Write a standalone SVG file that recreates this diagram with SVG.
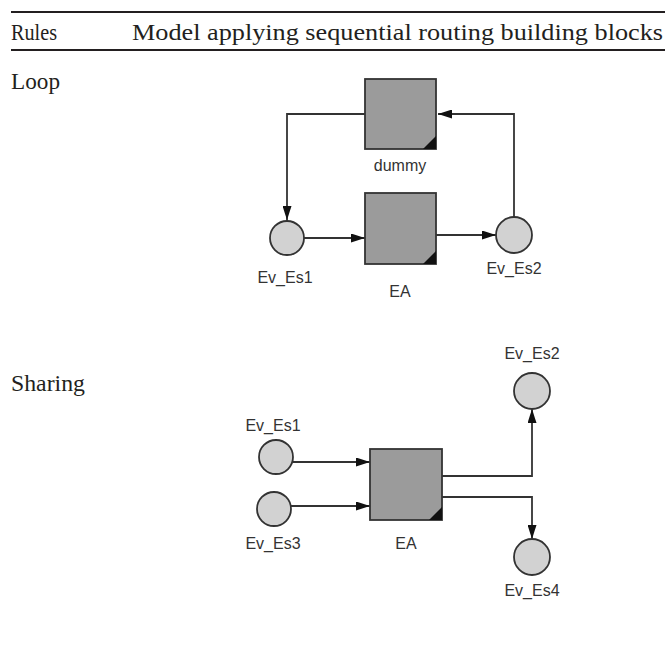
<svg xmlns="http://www.w3.org/2000/svg" width="665" height="647" viewBox="0 0 665 647">
<style>
.hdr{font-family:"Liberation Serif","Times New Roman",serif;font-size:23px;fill:#231f20}
.lbl{font-family:"Liberation Sans",Arial,sans-serif;font-size:16px;fill:#333;text-anchor:middle}
.box{fill:#9b9b9b;stroke:#333;stroke-width:1.8}
.ev{fill:#d2d2d2;stroke:#333;stroke-width:1.8}
.tri{fill:#111}
.con{fill:none;stroke:#333;stroke-width:1.8}
</style>
<defs>
<marker id="ah" viewBox="0 0 14 9" refX="14" refY="4.5" markerWidth="14" markerHeight="9" markerUnits="userSpaceOnUse" orient="auto">
<path d="M0,0 L14,4.5 L0,9 Z" fill="#111"/>
</marker>
</defs>
<rect width="665" height="647" fill="#fff"/>
<g id="header">
<line x1="11" y1="12" x2="665" y2="12" stroke="#231f20" stroke-width="2.2"/>
<text class="hdr" x="11" y="40" textLength="46" lengthAdjust="spacingAndGlyphs">Rules</text>
<text class="hdr" x="132" y="40" textLength="531" lengthAdjust="spacingAndGlyphs">Model applying sequential routing building blocks</text>
<line x1="11" y1="50" x2="665" y2="50" stroke="#231f20" stroke-width="2.2"/>
<text class="hdr" x="11" y="89" textLength="49" lengthAdjust="spacingAndGlyphs">Loop</text>
<text class="hdr" x="11" y="391" textLength="74" lengthAdjust="spacingAndGlyphs">Sharing</text>
</g>
<g id="connectors">
<polyline class="con" points="365,114 287,114 287,220" marker-end="url(#ah)"/>
<line class="con" x1="304" y1="238" x2="365" y2="238" marker-end="url(#ah)"/>
<line class="con" x1="436" y1="235" x2="496" y2="235" marker-end="url(#ah)"/>
<polyline class="con" points="514,217 514,114 438,114" marker-end="url(#ah)"/>
<line class="con" x1="293" y1="462" x2="370" y2="462" marker-end="url(#ah)"/>
<line class="con" x1="291" y1="506" x2="370" y2="506" marker-end="url(#ah)"/>
<polyline class="con" points="442,476 532,476 532,409" marker-end="url(#ah)"/>
<polyline class="con" points="442,497 532,497 532,539" marker-end="url(#ah)"/>
</g>
<g id="loop-dummy">
<rect class="box" x="365" y="79" width="71" height="70"/>
<path class="tri" d="M423,149 L436,149 L436,136 Z"/>
<text class="lbl" x="400" y="171">dummy</text>
</g>
<g id="loop-EA">
<rect class="box" x="365" y="193" width="71" height="71"/>
<path class="tri" d="M423,264 L436,264 L436,251 Z"/>
<text class="lbl" x="400" y="297">EA</text>
</g>
<g id="loop-Ev_Es1">
<circle class="ev" cx="287" cy="238" r="17"/>
<text class="lbl" x="285" y="283">Ev_Es1</text>
</g>
<g id="loop-Ev_Es2">
<circle class="ev" cx="514" cy="235" r="18"/>
<text class="lbl" x="514" y="274">Ev_Es2</text>
</g>
<g id="share-EA">
<rect class="box" x="370" y="449" width="72" height="71"/>
<path class="tri" d="M429,520 L442,520 L442,507 Z"/>
<text class="lbl" x="406" y="549">EA</text>
</g>
<g id="share-Ev_Es1">
<circle class="ev" cx="276" cy="457" r="17"/>
<text class="lbl" x="273" y="431">Ev_Es1</text>
</g>
<g id="share-Ev_Es3">
<circle class="ev" cx="274" cy="509" r="17"/>
<text class="lbl" x="273" y="549">Ev_Es3</text>
</g>
<g id="share-Ev_Es2">
<circle class="ev" cx="532" cy="391" r="18"/>
<text class="lbl" x="532" y="359">Ev_Es2</text>
</g>
<g id="share-Ev_Es4">
<circle class="ev" cx="532" cy="557" r="18"/>
<text class="lbl" x="532" y="596">Ev_Es4</text>
</g>
</svg>
